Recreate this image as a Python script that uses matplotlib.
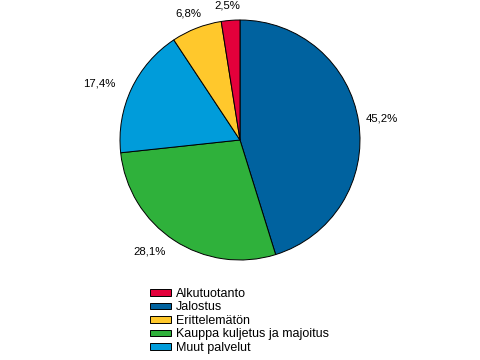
import matplotlib.pyplot as plt

plt.rcParams['font.family'] = ['Liberation Sans', 'DejaVu Sans']

# slices, clockwise from 12 o'clock
slices = ['Jalostus', 'Kauppa kuljetus ja majoitus', 'Muut palvelut',
          'Erittelemätön', 'Alkutuotanto']
shares = [45.2, 28.1, 17.4, 6.8, 2.5]
labels = ['45,2%', '28,1%', '17,4%', '6,8%', '2,5%']
colors = ['#00629f', '#2fb13b', '#009cda', '#ffc82c', '#e4003b']
# label positions (in pie radii)
label_pos = [(1.183, 0.183), (-0.75, -0.925), (-1.175, 0.475),
             (-0.433, 1.058), (-0.108, 1.117)]

legend_order = ['Alkutuotanto', 'Jalostus', 'Erittelemätön',
                'Kauppa kuljetus ja majoitus', 'Muut palvelut']

fig = plt.figure(figsize=(4.8, 3.6), dpi=100)
ax = fig.add_axes([0.25, 100 / 360, 0.5, 240 / 360])
wedges, _ = ax.pie(shares, colors=colors, startangle=90, counterclock=False,
                   wedgeprops=dict(edgecolor='black', linewidth=0.7))
for (x, y), t in zip(label_pos, labels):
    ax.text(x, y, t, ha='center', va='center', fontsize=8.2)
ax.set_xlim(-1, 1)
ax.set_ylim(-1, 1)
ax.set_aspect('equal')

handles = [wedges[slices.index(n)] for n in legend_order]
fig.legend(handles, legend_order, loc='upper left',
           bbox_to_anchor=(150 / 480, 1 - 288 / 360), frameon=False,
           fontsize=9, handlelength=1.7, handleheight=0.42, labelspacing=0.12,
           handletextpad=0.4, borderpad=0, borderaxespad=0)

fig.savefig('out.png', dpi=100)
